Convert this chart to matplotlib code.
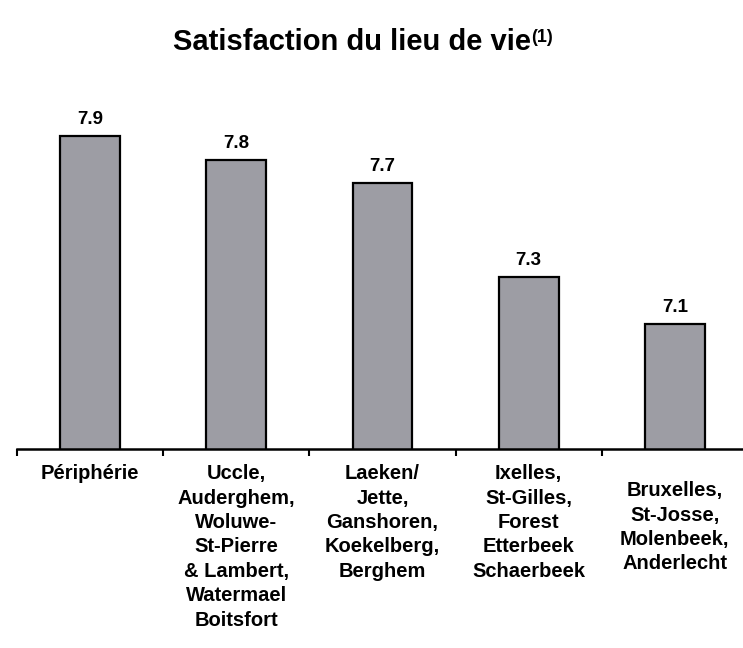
import matplotlib

matplotlib.use("Agg")
import matplotlib.pyplot as plt

# data
regions = [
    "Périphérie",
    "Uccle,\nAuderghem,\nWoluwe-\nSt-Pierre\n& Lambert,\nWatermael\nBoitsfort",
    "Laeken/\nJette,\nGanshoren,\nKoekelberg,\nBerghem",
    "Ixelles,\nSt-Gilles,\nForest\nEtterbeek\nSchaerbeek",
    "Bruxelles,\nSt-Josse,\nMolenbeek,\nAnderlecht",
]
scores = [7.9, 7.8, 7.7, 7.3, 7.1]
label_drop = [0, 0, 0, 0, 17]  # last label sits a bit lower in the original


def main():
    plt.rcParams["font.family"] = ["Liberation Sans", "DejaVu Sans"]
    plt.rcParams["font.weight"] = "bold"

    fig = plt.figure(figsize=(7.43, 6.48), dpi=100)
    ax = fig.add_axes([17 / 743, 199 / 648, 726 / 743, 349 / 648])

    x = list(range(len(scores)))
    bars = ax.bar(x, scores, width=0.41, bottom=0, color="#9d9da4",
                  edgecolor="black", linewidth=1.6)

    for rect, val in zip(bars, scores):
        ax.annotate(f"{val:.1f}", xy=(rect.get_x() + rect.get_width() / 2, val),
                    xytext=(0, 6), textcoords="offset points",
                    ha="center", va="bottom", fontsize=13.5, fontweight="bold")

    ax.set_ylim(6.57, 8.055)
    ax.set_xlim(-0.5, 4.466)

    for s in ["top", "right", "left"]:
        ax.spines[s].set_visible(False)
    ax.spines["bottom"].set_linewidth(1.8)
    ax.set_yticks([])

    # small ticks between categories, labels drawn as text
    ax.set_xticks([i - 0.5 for i in range(len(scores))])
    ax.set_xticklabels([])
    ax.tick_params(axis="x", direction="out", length=5, width=1.5)

    trans = ax.get_xaxis_transform()
    for i, (lab, drop) in enumerate(zip(regions, label_drop)):
        ax.annotate(lab, xy=(i, 0), xycoords=trans,
                    xytext=(0, -11 - drop * 0.72), textcoords="offset points",
                    ha="center", va="top", fontsize=14.5, fontweight="bold",
                    linespacing=1.36, multialignment="center")

    title = fig.text(352 / 743, 1 - 42 / 648, "Satisfaction du lieu de vie",
                     ha="center", va="center", fontsize=21, fontweight="bold")
    ax.annotate("(1)", xy=(1, 1), xycoords=title, xytext=(0, -1),
                textcoords="offset points", ha="left", va="top",
                fontsize=13, fontweight="bold")

    fig.savefig("out.png", dpi=100, facecolor="white")


if __name__ == "__main__":
    main()
